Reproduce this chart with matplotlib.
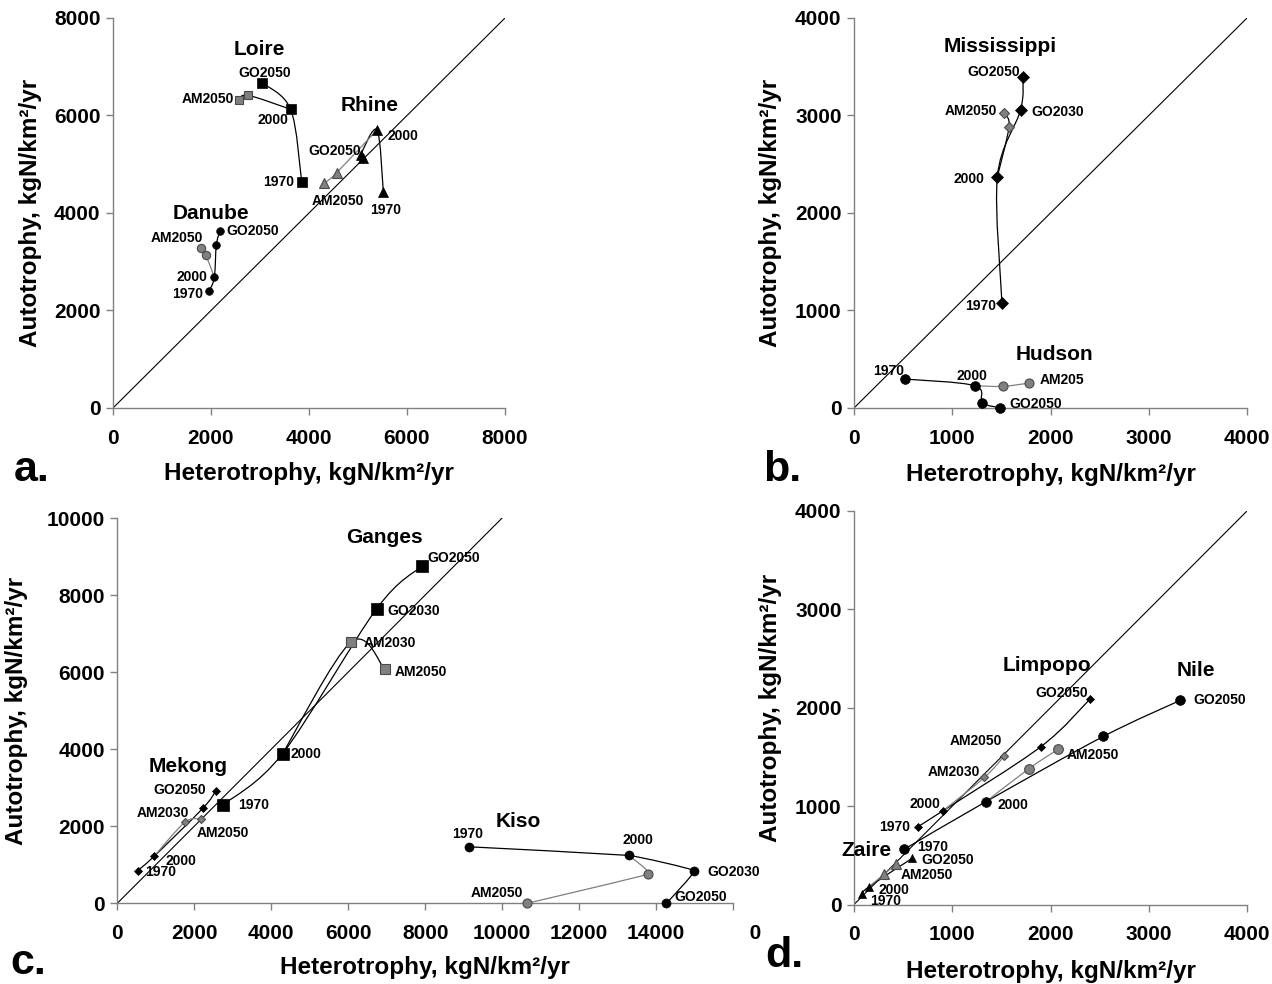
import numpy as np
import matplotlib
matplotlib.use("Agg")
import matplotlib.pyplot as plt
from matplotlib.path import Path
from matplotlib.patches import PathPatch, Rectangle

plt.rcParams['font.family'] = ['Liberation Sans', 'DejaVu Sans']
plt.rcParams['font.weight'] = 'bold'

# ---------------- DATA ----------------
# Each river: "GO" path = 1970, 2000, (GO2030), GO2050 ; "AM" path = AM2030, AM2050
# Panel a
loire_go_x = [3851, 3626, 3041]
loire_go_y = [4642, 6127, 6673]
loire_am_x = [2755, 2565]
loire_am_y = [6414, 6311]
rhine_go_x = [5517, 5388, 5055, 5096]
rhine_go_y = [4437, 5703, 5190, 5122]
rhine_am_x = [4565, 4313]
rhine_am_y = [4827, 4609]
danube_go_x = [1966, 2068, 2109, 2184]
danube_go_y = [2407, 2680, 3344, 3631]
danube_am_x = [1898, 1803]
danube_am_y = [3132, 3282]
# Panel b
miss_go_x = [1506, 1459, 1695, 1720]
miss_go_y = [1074, 2372, 3056, 3395]
miss_am_x = [1578, 1527]
miss_am_y = [2885, 3022]
hudson_go_x = [516, 1228, 1306, 1486]
hudson_go_y = [297, 229, 54, 3]
hudson_am_x = [1513, 1785]
hudson_am_y = [222, 256]
# Panel c
ganges_go_x = [2738, 4296, 6737, 7906]
ganges_go_y = [2547, 3886, 7642, 8746]
ganges_am_x = [6070, 6953]
ganges_am_y = [6777, 6070]
mekong_go_x = [529, 961, 2218, 2556]
mekong_go_y = [845, 1225, 2461, 2909]
mekong_am_x = [1758, 2165]
mekong_am_y = [2106, 2184]
kiso_go_x = [9143, 13291, 14987, 14270]
kiso_go_y = [1466, 1243, 845, 0]
kiso_am_x = [13792, 10649]
kiso_am_y = [759, 0]
# Panel d
limpopo_go_x = [651, 909, 1904, 2402]
limpopo_go_y = [792, 955, 1606, 2088]
limpopo_am_x = [1326, 1530]
limpopo_am_y = [1291, 1508]
nile_go_x = [512, 1344, 2537, 3318]
nile_go_y = [562, 1046, 1708, 2074]
nile_am_x = [1782, 2080]
nile_am_y = [1382, 1580]
zaire_go_x = [78, 153, 593]
zaire_go_y = [104, 181, 470]
zaire_am_x = [309, 425]
zaire_am_y = [310, 409]

ticks_a = [0, 2000, 4000, 6000, 8000]
ticks_b = [0, 1000, 2000, 3000, 4000]
ticks_c_x = [0, 2000, 4000, 6000, 8000, 10000, 12000, 14000, 16000]
ticks_c_y = [0, 2000, 4000, 6000, 8000, 10000]
ticks_d = [0, 1000, 2000, 3000, 4000]

xlabel_text = "Heterotrophy, kgN/km\u00b2/yr"
ylabel_text = "Autotrophy, kgN/km\u00b2/yr"
panel_letters = ["a.", "b.", "c.", "d."]

# ---------------- FIGURE ----------------
W, H = 1272, 984
fig = plt.figure(figsize=(W / 100, H / 100), dpi=100)


def add_axes(l, r, t, b):
    return fig.add_axes([l / W, 1 - b / H, (r - l) / W, (b - t) / H])


GRAY = '#808080'
GRAY_EDGE = '#4a4a4a'


def style(ax, xticks, yticks, diag_max):
    ax.set_xlim(xticks[0], xticks[-1])
    ax.set_ylim(yticks[0], yticks[-1])
    ax.set_xticks(xticks)
    ax.set_xticklabels([str(t) for t in xticks])
    ax.set_yticks(yticks)
    ax.set_yticklabels([str(t) for t in yticks])
    for s in ['top', 'right']:
        ax.spines[s].set_visible(False)
    for s in ['left', 'bottom']:
        ax.spines[s].set_color(GRAY)
        ax.spines[s].set_linewidth(1.0)
    ax.tick_params(direction='out', length=5, width=1, color=GRAY,
                   labelsize=15)
    ax.tick_params(axis='x', pad=10)
    ax.tick_params(axis='y', pad=4)
    ax.patch.set_alpha(0)
    ax.plot([0, diag_max], [0, diag_max], color='black', lw=0.8, zorder=1)


def smooth(ax, xs, ys, color, lw=0.9, tension=1.0):
    pts = np.column_stack([xs, ys]).astype(float)
    n = len(pts)
    verts = [pts[0]]
    codes = [Path.MOVETO]
    for i in range(n - 1):
        p0 = pts[i - 1] if i > 0 else pts[i]
        p1 = pts[i]
        p2 = pts[i + 1]
        p3 = pts[i + 2] if i + 2 < n else pts[i + 1]
        c1 = p1 + tension * (p2 - p0) / 6.0
        c2 = p2 - tension * (p3 - p1) / 6.0
        verts += [c1, c2, p2]
        codes += [Path.CURVE4] * 3
    ax.add_patch(PathPatch(Path(verts, codes), facecolor='none',
                           edgecolor=color, lw=lw, zorder=2))


def river(ax, gx, gy, axx, ayy, marker, ms_black, ms_gray, am_line,
          tension=1.0):
    # GO path (black)
    smooth(ax, gx, gy, 'black', tension=tension)
    # AM path from 2000
    smooth(ax, [gx[1]] + list(axx), [gy[1]] + list(ayy), am_line,
           tension=tension)
    ax.plot(axx, ayy, linestyle='none', marker=marker, ms=ms_gray,
            mfc=GRAY, mec=GRAY_EDGE, mew=0.8, zorder=3, clip_on=False)
    ax.plot(gx, gy, linestyle='none', marker=marker, ms=ms_black,
            mfc='black', mec='black', mew=0.5, zorder=4, clip_on=False)


def label(ax, text, x, y, dx, dy, ha, size=10):
    ax.annotate(text, xy=(x, y), xytext=(dx, -dy), textcoords='offset pixels',
                ha=ha, va='center', fontsize=size, fontweight='bold',
                zorder=6, annotation_clip=False)


def name(ax, text, x, y):
    ax.text(x, y, text, ha='center', va='center', fontsize=15,
            fontweight='bold', zorder=6)


def labels(ax, gx, gy, axx, ayy, specs):
    for text, which, idx, dx, dy, ha in specs:
        if which == 'go':
            label(ax, text, gx[idx], gy[idx], dx, dy, ha)
        else:
            label(ax, text, axx[idx], ayy[idx], dx, dy, ha)


# ---------- panel a ----------
axa = add_axes(113, 505, 18, 408)
style(axa, ticks_a, ticks_a, 8000)
river(axa, loire_go_x, loire_go_y, loire_am_x, loire_am_y, 's', 7.5, 5.5, 'black')
river(axa, rhine_go_x, rhine_go_y, rhine_am_x, rhine_am_y, '^', 7, 6.5, GRAY)
river(axa, danube_go_x, danube_go_y, danube_am_x, danube_am_y, 'o', 5.5, 6, GRAY)
labels(axa, loire_go_x, loire_go_y, loire_am_x, loire_am_y, [
    ('GO2050', 'go', 2, 3, -10, 'center'),
    ('AM2050', 'am', 1, -5, -1, 'right'),
    ('2000', 'go', 1, -18, 11, 'center'),
    ('1970', 'go', 0, -8, 0, 'right')])
labels(axa, rhine_go_x, rhine_go_y, rhine_am_x, rhine_am_y, [
    ('2000', 'go', 1, 10, 6, 'left'),
    ('GO2050', 'go', 3, -28, -7, 'center'),
    ('AM2050', 'am', 1, 14, 18, 'center'),
    ('1970', 'go', 0, 2, 18, 'center')])
labels(axa, danube_go_x, danube_go_y, danube_am_x, danube_am_y, [
    ('GO2050', 'go', 3, 6, 0, 'left'),
    ('AM2050', 'am', 1, -25, -10, 'center'),
    ('2000', 'go', 1, -7, 0, 'right'),
    ('1970', 'go', 0, -6, 3, 'right')])
name(axa, 'Loire', 2980, 7364)
name(axa, 'Rhine', 5231, 6195)
name(axa, 'Danube', 2000, 3993)

# ---------- panel b ----------
axb = add_axes(854, 1247, 18, 408)
style(axb, ticks_b, ticks_b, 4000)
river(axb, miss_go_x, miss_go_y, miss_am_x, miss_am_y, 'D', 6.3, 5, 'black')
river(axb, hudson_go_x, hudson_go_y, hudson_am_x, hudson_am_y, 'o', 7, 6.5, GRAY)
labels(axb, miss_go_x, miss_go_y, miss_am_x, miss_am_y, [
    ('GO2050', 'go', 3, -3, -5, 'right'),
    ('AM2050', 'am', 1, -7, -2, 'right'),
    ('GO2030', 'go', 2, 11, 2, 'left'),
    ('2000', 'go', 1, -13, 2, 'right'),
    ('1970', 'go', 0, -6, 3, 'right')])
labels(axb, hudson_go_x, hudson_go_y, hudson_am_x, hudson_am_y, [
    ('1970', 'go', 0, -16, -8, 'center'),
    ('2000', 'go', 1, -3, -10, 'center'),
    ('AM205', 'am', 1, 10, -3, 'left'),
    ('GO2050', 'go', 3, 9, -4, 'left')])
name(axb, 'Mississippi', 1493, 3706)
name(axb, 'Hudson', 2036, 544)

# ---------- panel c ----------
axc = add_axes(117.3, 733, 518, 903.3)
style(axc, ticks_c_x, ticks_c_y, 10000)
river(axc, ganges_go_x, ganges_go_y, ganges_am_x, ganges_am_y, 's', 8.5, 6.5, 'black')
river(axc, mekong_go_x, mekong_go_y, mekong_am_x, mekong_am_y, 'D', 4.5, 4.5, GRAY)
river(axc, kiso_go_x, kiso_go_y, kiso_am_x, kiso_am_y, 'o', 6.5, 6.5, GRAY,
      tension=0.25)
labels(axc, ganges_go_x, ganges_go_y, ganges_am_x, ganges_am_y, [
    ('GO2050', 'go', 3, 6, -8, 'left'),
    ('GO2030', 'go', 2, 11, 2, 'left'),
    ('AM2030', 'am', 0, 13, 1, 'left'),
    ('AM2050', 'am', 1, 10, 3, 'left'),
    ('2000', 'go', 1, 8, 0, 'left'),
    ('1970', 'go', 0, 15, 0, 'left')])
labels(axc, mekong_go_x, mekong_go_y, mekong_am_x, mekong_am_y, [
    ('GO2050', 'go', 3, -10, -1, 'right'),
    ('AM2030', 'am', 0, -22, -9, 'center'),
    ('AM2050', 'am', 1, -4, 14, 'left'),
    ('2000', 'go', 1, 11, 5, 'left'),
    ('1970', 'go', 0, 7, 1, 'left')])
labels(axc, kiso_go_x, kiso_go_y, kiso_am_x, kiso_am_y, [
    ('1970', 'go', 0, -2, -13, 'center'),
    ('2000', 'go', 1, 9, -15, 'center'),
    ('GO2030', 'go', 2, 13, 1, 'left'),
    ('GO2050', 'go', 3, 8, -6, 'left'),
    ('AM2050', 'am', 1, -4, -10, 'right')])
name(axc, 'Ganges', 6935, 9497)
name(axc, 'Mekong', 1844, 3539)
name(axc, 'Kiso', 10416, 2114)

# ---------- panel d ----------
axd = add_axes(854, 1247, 511, 904.5)
style(axd, ticks_d, ticks_d, 4000)
river(axd, limpopo_go_x, limpopo_go_y, limpopo_am_x, limpopo_am_y, 'D', 4.5, 4.5, GRAY)
river(axd, nile_go_x, nile_go_y, nile_am_x, nile_am_y, 'o', 7, 7, GRAY)
river(axd, zaire_go_x, zaire_go_y, zaire_am_x, zaire_am_y, '^', 6, 6.5, GRAY)
labels(axd, limpopo_go_x, limpopo_go_y, limpopo_am_x, limpopo_am_y, [
    ('GO2050', 'go', 3, -2, -6, 'right'),
    ('AM2050', 'am', 1, -2, -15, 'right'),
    ('AM2030', 'am', 0, -4, -5, 'right'),
    ('2000', 'go', 1, -3, -7, 'right'),
    ('1970', 'go', 0, -8, 0, 'right')])
labels(axd, nile_go_x, nile_go_y, nile_am_x, nile_am_y, [
    ('GO2050', 'go', 3, 13, 0, 'left'),
    ('AM2050', 'am', 1, 8, 6, 'left'),
    ('2000', 'go', 1, 11, 3, 'left'),
    ('1970', 'go', 0, 13, -2, 'left')])
labels(axd, zaire_go_x, zaire_go_y, zaire_am_x, zaire_am_y, [
    ('GO2050', 'go', 2, 9, 2, 'left'),
    ('AM2050', 'am', 1, 5, 11, 'left'),
    ('2000', 'go', 1, 9, 3, 'left'),
    ('1970', 'go', 0, 8, 7, 'left')])
name(axd, 'Limpopo', 1961, 2427)
name(axd, 'Nile', 3481, 2380)
name(axd, 'Zaire', 122, 548)

# ---------- axis labels ----------
for ax, xl_top, yl_right in [(axa, -0.138, -0.181), (axb, -0.142, -0.183),
                             (axc, -0.137, -0.145), (axd, -0.142, -0.183)]:
    ax.set_xlabel(xlabel_text, fontsize=17.5, fontweight='bold')
    ax.set_ylabel(ylabel_text, fontsize=17.5, fontweight='bold')
    ax.xaxis.set_label_coords(0.5, xl_top)
    ax.yaxis.set_label_coords(yl_right, 0.5)

# panel letters
for txt, x, yb in zip(panel_letters, [14, 763, 10, 765], [481, 481, 974, 967]):
    fig.text(x / W, 1 - yb / H, txt, fontsize=31, fontweight='bold',
             va='baseline', ha='left')

# the last tick label of panel c is hidden behind panel d in the reference
fig.add_artist(Rectangle((695 / W, 1 - 952 / H), (749.5 - 695) / W, 32 / H,
                         transform=fig.transFigure, facecolor='white',
                         edgecolor='none', zorder=5))

fig.savefig('out.png', dpi=100)
